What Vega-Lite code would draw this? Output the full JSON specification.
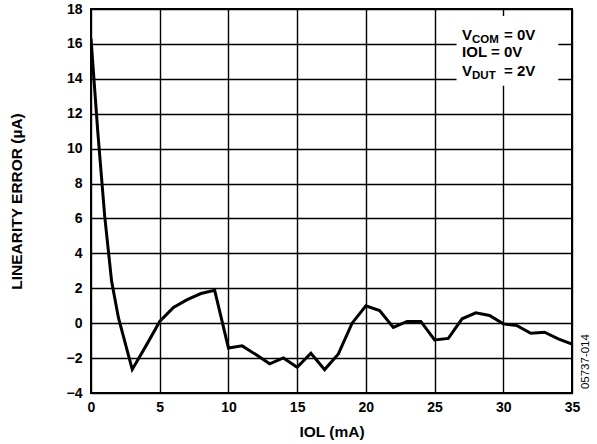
{
  "$schema": "https://vega.github.io/schema/vega-lite/v6.json",
  "autosize": "none",
  "width": 481,
  "height": 384,
  "padding": {"left": 91, "top": 9, "right": 25, "bottom": 51},
  "background": "white",
  "config": {
    "font": "Liberation Sans",
    "view": {"stroke": "black", "strokeWidth": 2},
    "axis": {
      "grid": true,
      "gridColor": "black",
      "gridOpacity": 1,
      "gridWidth": 1.4,
      "domain": false,
      "ticks": false,
      "labelOverlap": false,
      "labelFlush": false,
      "labelFont": "Liberation Sans",
      "labelFontWeight": "bold",
      "labelFontSize": 14,
      "labelColor": "black",
      "titleFont": "Liberation Sans",
      "titleFontWeight": "bold",
      "titleFontSize": 15.5,
      "titleColor": "black"
    }
  },
  "datasets": {
    "curve": [
      {"iol": 0, "err": 16.3},
      {"iol": 0.5, "err": 10.9},
      {"iol": 1, "err": 6.1},
      {"iol": 1.5, "err": 2.4},
      {"iol": 2, "err": 0.3},
      {"iol": 3, "err": -2.65},
      {"iol": 4, "err": -1.3},
      {"iol": 5, "err": 0.1},
      {"iol": 6, "err": 0.9},
      {"iol": 7, "err": 1.35},
      {"iol": 8, "err": 1.7},
      {"iol": 9, "err": 1.88},
      {"iol": 10, "err": -1.42},
      {"iol": 11, "err": -1.3},
      {"iol": 12, "err": -1.8},
      {"iol": 13, "err": -2.33},
      {"iol": 14, "err": -1.99},
      {"iol": 15, "err": -2.53},
      {"iol": 16, "err": -1.72},
      {"iol": 17, "err": -2.66},
      {"iol": 18, "err": -1.76},
      {"iol": 19, "err": 0.0},
      {"iol": 20, "err": 1.0},
      {"iol": 21, "err": 0.72},
      {"iol": 22, "err": -0.24},
      {"iol": 23, "err": 0.1},
      {"iol": 24, "err": 0.1},
      {"iol": 25, "err": -0.96},
      {"iol": 26, "err": -0.87},
      {"iol": 27, "err": 0.25},
      {"iol": 28, "err": 0.59},
      {"iol": 29, "err": 0.44},
      {"iol": 30, "err": -0.04},
      {"iol": 31, "err": -0.14},
      {"iol": 32, "err": -0.58},
      {"iol": 33, "err": -0.52},
      {"iol": 34, "err": -0.9},
      {"iol": 35, "err": -1.2}
    ],
    "box": [{"iol": 26.6, "x2": 34.0, "err": 17.6, "y2": 13.6}],
    "main": [
      {"iol": 27.0, "err": 16.25, "t": "V"},
      {"iol": 27.0, "err": 15.24, "t": "IOL = 0V"},
      {"iol": 27.0, "err": 14.19, "t": "V"}
    ],
    "sub": [
      {"iol": 27.0, "err": 16.25, "t": "COM", "rest": "= 0V"},
      {"iol": 27.0, "err": 14.19, "t": "DUT", "rest": "= 2V"}
    ],
    "code": [{"iol": 36.0, "err": -2.2, "t": "05737-014"}]
  },
  "encoding": {
    "x": {
      "field": "iol", "type": "quantitative",
      "scale": {"domain": [0, 35], "nice": false, "zero": false},
      "axis": {"values": [0, 5, 10, 15, 20, 25, 30, 35], "title": "IOL (mA)", "labelPadding": 7, "titlePadding": 10}
    },
    "y": {
      "field": "err", "type": "quantitative",
      "scale": {"domain": [-4, 18], "nice": false, "zero": false},
      "axis": {"values": [-4, -2, 0, 2, 4, 6, 8, 10, 12, 14, 16, 18], "title": "LINEARITY ERROR (µA)", "labelPadding": 9, "titlePadding": 42}
    }
  },
  "layer": [
    {
      "data": {"name": "curve"},
      "mark": {"type": "line", "color": "black", "strokeWidth": 3, "clip": true}
    },
    {
      "data": {"name": "box"},
      "mark": {"type": "rect", "color": "white"},
      "encoding": {
        "x2": {"field": "x2"},
        "y2": {"field": "y2"}
      }
    },
    {
      "data": {"name": "main"},
      "mark": {"type": "text", "align": "left", "baseline": "alphabetic", "font": "Liberation Sans", "fontWeight": "bold", "fontSize": 15, "color": "black"},
      "encoding": {
        "text": {"field": "t"}
      }
    },
    {
      "data": {"name": "sub"},
      "mark": {"type": "text", "align": "left", "baseline": "alphabetic", "font": "Liberation Sans", "fontWeight": "bold", "fontSize": 11.5, "dx": 10, "dy": 3, "color": "black"},
      "encoding": {
        "text": {"field": "t"}
      }
    },
    {
      "data": {"name": "sub"},
      "mark": {"type": "text", "align": "left", "baseline": "alphabetic", "font": "Liberation Sans", "fontWeight": "bold", "fontSize": 15, "dx": 42, "color": "black"},
      "encoding": {
        "text": {"field": "rest"}
      }
    },
    {
      "data": {"name": "code"},
      "mark": {"type": "text", "angle": 270, "align": "center", "baseline": "middle", "font": "Liberation Sans", "fontSize": 11.5, "color": "black", "clip": false},
      "encoding": {
        "text": {"field": "t"}
      }
    }
  ]
}
